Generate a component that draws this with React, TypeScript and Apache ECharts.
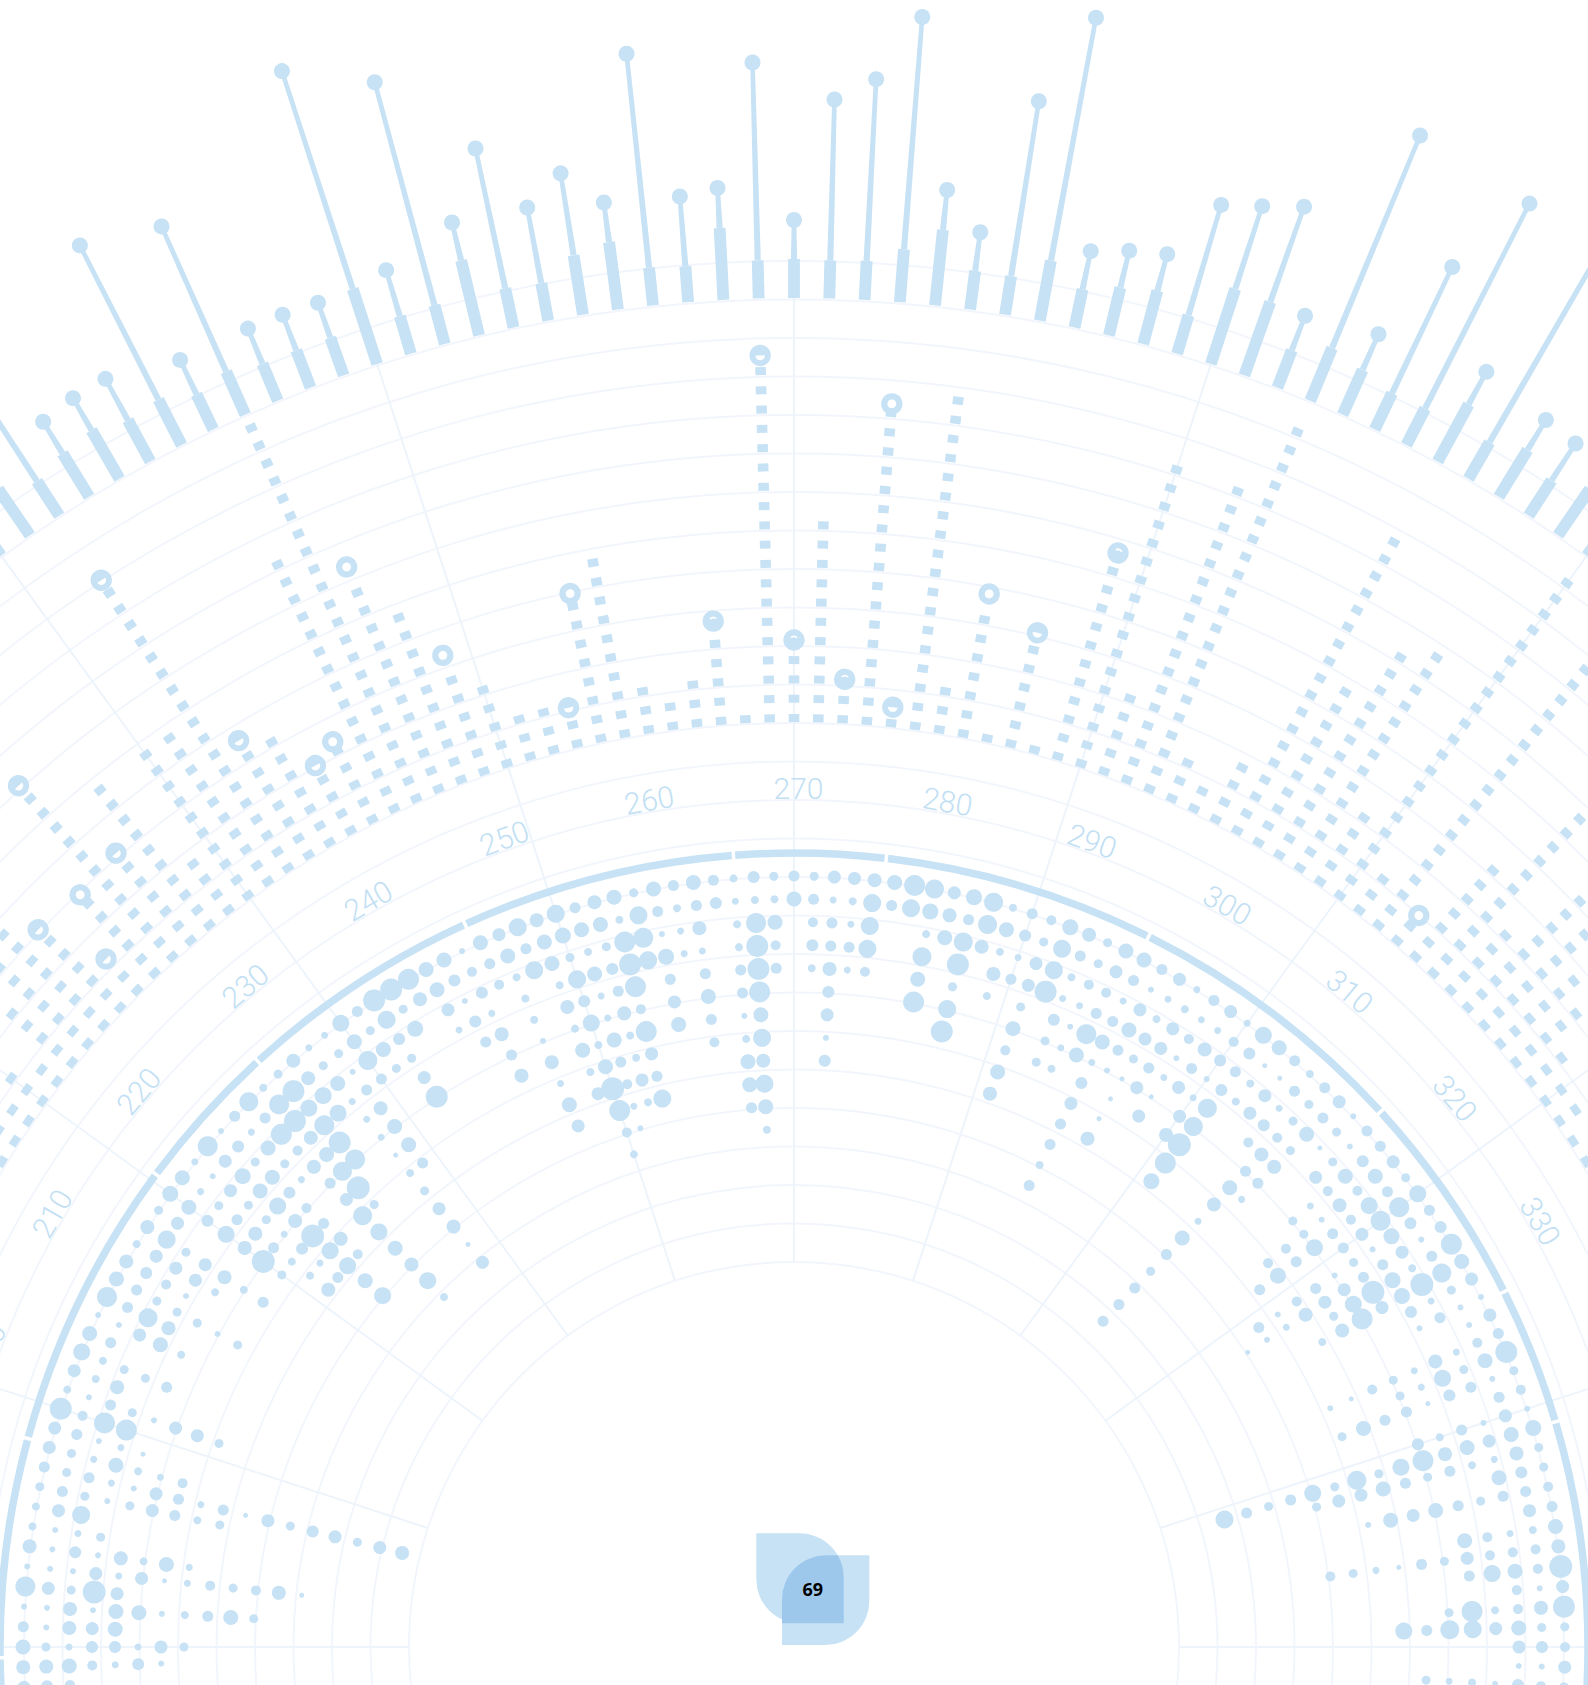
import React, { useEffect, useRef } from "react";
import * as echarts from "echarts";

const BLUE = "#c7e2f5";
const RING = "#f2f6fc";
const SPOKE = "#edf4fb";

// value axis ticks
const angleLabels = [200, 210, 220, 230, 240, 250, 260, 270, 280, 290, 300, 310, 320, 330];
const arcSegments = [
  [170, 179.1], [179.35, 195.1], [195.35, 216.4], [216.65, 227.4], [227.65, 245.4], [245.65, 265.5],
  [265.75, 276.55], [276.8, 296.4], [296.65, 317.5], [317.75, 333.3], [333.55, 343.4], [343.65, 370],
];

// inner bubble columns: each inner list holds one column's bubble sizes, outermost row first
const dotsWest = [ // columns -62 .. -41
  [13, 12, 10],
  [14, 14, 15, 10, 7, 12, 6],
  [15, 9, 7, 12, 12, 7, 13, 9],
  [11, 6, 14, 13, 15],
  [6, 6, 14, 6, 15, 15, 6, 8, 11, 15, 9],
  [20, 13, 9, 23, 13],
  [6, 6, 6, 13, 7, 13, 5, 7, 10, 9, 10, 14, 5],
  [14, 6, 12, 6, 14, 8, 15, 7],
  [8, 6, 7, 9],
  [8, 13, 18],
  [9, 11, 9, 6, 9, 13, 11, 8, 9],
  [11, 9, 11, 7, 6, 13, 11, 7, 11, 5, 13, 9, 12, 13, 9, 13, 14],
  [13, 9, 7, 15, 8, 7, 10],
  [13, 11, 6, 7, 5],
  [22, 10, 21, 21],
  [8, 6, 11, 9, 6, 13, 13, 9],
  [13, 8, 14],
  [17, 8, 9, 9, 11],
  [15, 11],
  [6, 6, 13, 15, 8],
  [20, 11, 19, 14],
  [15, 11, 9, 9, 9, 6, 9],
];
const dotsNorthWest = [ // columns -40 .. -21
  [14, 12, 10, 6],
  [8, 13, 13, 13, 8],
  [14, 18, 9, 13, 14, 8, 11],
  [9, 13],
  [16, 15, 12, 17, 14, 23, 9],
  [15, 7, 9, 11, 14, 11, 8, 8, 14],
  [7, 6, 13, 9, 9, 7, 12, 7, 11],
  [20, 13, 16, 15, 17, 14, 23, 17, 17, 15, 17],
  [6, 12, 9, 15, 12, 10, 11, 14, 10],
  [11, 7, 15, 9, 7],
  [19, 11, 21, 10, 14, 11, 13, 19, 17, 15, 14, 17, 8],
  [8, 20, 22, 14, 15, 19, 23, 9],
  [9, 22, 17, 20, 22, 20],
  [14, 14, 17, 17],
  [7, 9, 15, 7, 7, 7, 5, 8, 9, 13, 14, 5, 13],
  [7, 9, 6, 11, 14, 15, 15, 11],
  [17, 15, 19, 11],
  [11, 9, 15, 9],
  [22, 18, 12, 9, 13, 22],
  [22, 9, 16],
];
const dotsNorth = [ // columns -20 .. 20
  [21, 14],
  [15, 15, 13, 7],
  [15, 12, 6, 12, 11],
  [6, 10, 12, 7, 14, 11, 14],
  [15, 11, 10],
  [13, 15, 8, 8, 8, 6, 14, 7, 15, 13],
  [18, 11, 18],
  [14, 15, 15, 8, 14, 8, 15, 8, 13],
  [18, 16, 9, 18, 12, 17, 8, 15, 23, 21, 10, 8],
  [11, 15, 8, 15, 7, 7, 15, 11, 10, 7, 6],
  [14, 15, 9, 12, 11, 14, 8, 8, 13, 8],
  [15, 8, 21, 22, 21, 10, 21, 13, 11, 18],
  [9, 18, 20, 18],
  [15, 11, 6, 16, 11, 13, 15],
  [11, 8, 7, 7],
  [15, 11, 14, 7, 11, 15, 11, 10],
  [11, 12],
  [8, 7, 8, 8, 11, 11, 6, 8, 15, 15, 11],
  [12, 8, 20, 22, 22, 21, 15, 18, 14, 18, 15, 8],
  [9, 8, 15, 10, 11],
  [11, 15],
  [9, 11, 10, 12, 8],
  [13, 7, 11, 11, 14, 12, 13, 6, 12],
  [13, 8, 7, 11, 7],
  [14, 18, 18, 18, 10],
  [15, 11],
  [21, 18],
  [19, 16, 8, 19, 15, 21],
  [13, 14, 15],
  [16, 11, 19, 22, 9, 18, 22],
  [19, 19, 14],
  [8, 15, 8, 14, 8],
  [11, 12, 7, 11],
  [10, 9, 13, 13, 9, 15, 10, 15, 14],
  [16, 18, 18, 22],
  [14, 11, 8, 7, 12, 9, 9],
  [9, 9, 10, 7, 6, 7, 8],
  [15, 13, 10, 11, 20, 15],
  [15, 11, 7, 11, 15, 7, 12, 13, 11, 11, 8, 11],
  [11, 6, 13, 15, 11, 6],
  [13, 7, 8, 13, 9, 5, 5, 5, 14],
];
const dotsNorthEast = [ // columns 21 .. 40
  [7, 8, 13, 13, 11, 13],
  [11, 7, 10, 6, 7, 5, 13],
  [13, 7, 14, 11, 13],
  [7, 10, 12, 6, 7, 13, 14],
  [17, 12, 11, 12, 19, 19, 23, 21, 16],
  [15, 5, 8, 8],
  [11, 5, 13, 13],
  [8, 11, 7, 12, 10],
  [11, 9, 9, 10, 14, 11, 15, 14, 7, 15, 11, 9, 11, 11, 11],
  [13, 11, 15, 9, 14, 11, 7],
  [6, 9, 5],
  [11, 6, 9, 13],
  [11, 12, 15, 10, 7, 9],
  [13, 15, 10, 14, 6, 9, 10, 10],
  [9, 11, 17, 10, 11, 17, 11, 16, 11],
  [17, 20, 20, 13, 11],
  [11, 12, 16, 6, 9, 6, 11, 10, 6, 11],
  [12, 6, 13, 11, 11, 13, 13, 14, 7, 6, 5],
  [21, 11, 8, 16, 23, 17, 9],
  [15, 19, 23, 16, 13, 21, 14, 8],
];
const dotsEast = [ // columns 41 .. 62
  [13, 9, 7, 12],
  [6, 6, 11, 6],
  [13, 6],
  [11, 10, 7, 14, 7, 9, 10, 5, 6],
  [22, 15, 9, 17, 7, 9],
  [9, 6, 11, 12, 5, 11, 11, 15, 9],
  [10, 11],
  [6, 13, 6, 11, 8, 12],
  [16, 15, 13, 15, 14, 21, 17, 9, 19, 9, 17, 11, 9, 11, 18],
  [9, 14, 7, 8, 11, 9, 11, 15, 13, 13, 9],
  [9, 12, 15],
  [10, 11, 11, 9, 11, 15, 13, 15, 6],
  [11, 13],
  [15, 8, 7, 10, 15],
  [14, 10, 10, 10, 13, 9, 11, 5, 7, 9, 10],
  [23, 10, 15, 17, 11],
  [13, 6, 10],
  [22, 14, 10, 8, 21, 9],
  [9, 9, 15, 13, 18, 19, 11, 17],
  [10, 12, 13],
  [13, 6, 6],
  [10, 10, 12, 6, 8, 7, 9],
];

// middle band: number of square marks per column, columns -39 .. 39
const dashCounts = [
  1, 2, 2, 3, 2, 5, 7, 8, 6, 2, 6, 12, 6, 10, 4, 10, 10, 18, 7, 7,
  4, 5, 15, 22, 12, 10, 6, 5, 3, 3, 2, 8, 10, 3, 2, 3, 5, 1, 19,
  4,
  11, 2, 17, 1, 18, 3, 7, 1, 6, 1, 11, 17, 5, 17, 21, 3, 2, 4, 18, 10,
  13, 14, 5, 21, 3, 18, 2, 7, 12, 5, 9, 8, 6, 5, 3, 2, 2, 1, 1,
];
// open markers capping some of those columns
const headColumns = [-31, -30, -29, -28, -27, -22, -21, -19, -18, -15, -13, -9, -8, -3, -1, 0, 2, 3, 4, 7, 9, 11, 27];
const headRadii = [1042, 973, 1037, 1159, 1044, 1272, 1063, 1003, 1016, 1169, 1052, 966, 1077, 1029, 1292, 1007, 969, 1247, 945, 1071, 1043, 1141, 962];
const headKinds = ["half", "half", "ring", "half", "half", "half", "half", "half", "ring", "ring", "ring", "half", "ring", "cap", "half", "cap", "cap", "ring", "half", "ring", "half", "cap", "ring"];

// outer lollipops, columns -24 .. 24
const spikeShoulders = [
  1400, 1405, 1390, 1400, 1405, 1396, 1400, 1388, 1396, 1389, 1389, 1389, 1428, 1388, 1389, 1426, 1389, 1387, 1409, 1417, 1387, 1385, 1421, 1387,
  1388,
  1387, 1388, 1402, 1425, 1388, 1388, 1410, 1388, 1398, 1404, 1389, 1428, 1427, 1389, 1406, 1398, 1389, 1390, 1414, 1391, 1404, 1391, 1405, 1400,
];
const spikeTips = [
  1500, 1500, 1540, 1437, 1442, 1443, 1573, 1426, 1555, 1427, 1427, 1426, 1657, 1436, 1620, 1465, 1532, 1464, 1492, 1457, 1602, 1455, 1461, 1585,
  1427,
  1548, 1570, 1635, 1465, 1427, 1565, 1657, 1427, 1436, 1442, 1504, 1515, 1528, 1426, 1636, 1437, 1529, 1620, 1451, 1680, 1439, 1435, 1500, 1500,
];

const colAngle = (c: number) => 270 + 1.5 * c;
const DOT_OUTER = 771;
const DOT_STEP = 23;
const DASH_INNER = 929;
const DASH_STEP = 19.3;
const SPIKE_BASE = 1349;

function dotData() {
  const out: number[][] = [];
  const add = (cols: number[][], first: number) =>
    cols.forEach((sizes, k) =>
      sizes.forEach((s, row) => {
        if (s > 0) out.push([DOT_OUTER - DOT_STEP * row, colAngle(first + k), s]);
      })
    );
  add(dotsWest, -62);
  add(dotsNorthWest, -40);
  add(dotsNorth, -20);
  add(dotsNorthEast, 21);
  add(dotsEast, 41);
  return out;
}

function dashData() {
  const out: number[][] = [];
  dashCounts.forEach((n, k) => {
    for (let j = 0; j < n; j++) out.push([DASH_INNER + DASH_STEP * j, colAngle(k - 39)]);
  });
  return out;
}

const tilt = (angle: number) => (-(angle - 270) * Math.PI) / 180;

function option() {
  return {
    animation: false,
    backgroundColor: "#ffffff",
    polar: [
      { center: [794, 1647], radius: [385, 1386] },
      { center: [794, 1647], radius: [385, SPIKE_BASE] },
      { center: [794, 1647], radius: [0, 1700] },
    ],
    radiusAxis: [
      {
        polarIndex: 0, type: "value", min: 385, max: 1386, interval: 38.5,
        axisLine: { show: false }, axisTick: { show: false }, axisLabel: { show: false },
        splitLine: { show: true, lineStyle: { color: RING, width: 2 } },
      },
      { polarIndex: 1, type: "value", min: 385, max: SPIKE_BASE, show: false },
      { polarIndex: 2, type: "value", min: 0, max: 1700, show: false },
    ],
    angleAxis: [
      { polarIndex: 0, type: "value", min: 0, max: 360, startAngle: 0, show: false },
      {
        polarIndex: 1, type: "value", min: 0, max: 360, interval: 18, startAngle: 0,
        axisLine: { show: false }, axisTick: { show: false }, axisLabel: { show: false },
        splitLine: { show: true, lineStyle: { color: SPOKE, width: 2 } },
      },
      { polarIndex: 2, type: "value", min: 0, max: 360, startAngle: 0, show: false },
    ],
    series: [
      {
        type: "custom", coordinateSystem: "polar", polarIndex: 2, silent: true, clip: false,
        data: arcSegments.map(([a, b]) => [794, a, b]),
        renderItem: (_: any, api: any) => {
          const c = api.coord([0, 0]);
          return {
            type: "arc",
            shape: {
              cx: c[0], cy: c[1], r: api.value(0),
              startAngle: (api.value(1) * Math.PI) / 180,
              endAngle: (api.value(2) * Math.PI) / 180,
              clockwise: true,
            },
            style: { fill: "none", stroke: BLUE, lineWidth: 7.5 },
          };
        },
      },
      {
        type: "custom", coordinateSystem: "polar", polarIndex: 2, silent: true, clip: false,
        data: angleLabels.map((a) => [859, a]),
        renderItem: (_: any, api: any) => {
          const a = api.value(1);
          const p = api.coord([api.value(0), a]);
          const t = tilt(a);
          return {
            type: "text", x: p[0] + 4.5 * Math.cos(t), y: p[1] - 4.5 * Math.sin(t), rotation: t,
            style: {
              text: String(a), fill: "#c2dff4", align: "center", verticalAlign: "middle",
              fontSize: 30, fontWeight: 300, fontFamily: "Roboto, sans-serif",
            },
          };
        },
      },
      {
        type: "scatter", coordinateSystem: "polar", polarIndex: 2, silent: true, clip: false,
        data: dotData(),
        symbol: "circle",
        symbolSize: (v: number[]) => v[2],
        itemStyle: { color: BLUE, opacity: 1 },
      },
      {
        type: "custom", coordinateSystem: "polar", polarIndex: 2, silent: true, clip: false,
        data: dashData(),
        renderItem: (_: any, api: any) => {
          const a = api.value(1);
          const p = api.coord([api.value(0), a]);
          return {
            type: "rect", x: p[0], y: p[1], rotation: tilt(a),
            shape: { x: -5.3, y: -4, width: 10.6, height: 8 },
            style: { fill: BLUE },
          };
        },
      },
      {
        type: "custom", coordinateSystem: "polar", polarIndex: 2, silent: true, clip: false,
        data: headColumns.map((c, i) => [headRadii[i], colAngle(c), i]),
        renderItem: (_: any, api: any) => {
          const a = api.value(1);
          const p = api.coord([api.value(0), a]);
          const kind = headKinds[api.value(2)];
          const inner: any =
            kind === "ring"
              ? { type: "circle", shape: { cx: 0, cy: 0, r: 4.4 }, style: { fill: "#fff" } }
              : kind === "half"
              ? { type: "sector", shape: { cx: 0, cy: 0, r0: 0, r: 4.8, startAngle: 0, endAngle: Math.PI, clockwise: true }, style: { fill: "#fff" } }
              : { type: "sector", shape: { cx: 0, cy: 0, r0: 2.8, r: 4.6, startAngle: Math.PI * 1.2, endAngle: Math.PI * 1.8, clockwise: true }, style: { fill: "#fff" } };
          return {
            type: "group", x: p[0], y: p[1], rotation: tilt(a),
            children: [{ type: "circle", shape: { cx: 0, cy: 0, r: 10.7 }, style: { fill: BLUE } }, inner],
          };
        },
      },
      {
        type: "custom", coordinateSystem: "polar", polarIndex: 2, silent: true, clip: false,
        data: spikeTips.map((t, i) => [t, colAngle(i - 24), spikeShoulders[i]]),
        renderItem: (_: any, api: any) => {
          const a = api.value(1);
          const tip = api.coord([api.value(0), a]);
          const top = api.coord([api.value(2), a]);
          const base = api.coord([SPIKE_BASE, a]);
          const rad = (a * Math.PI) / 180;
          const nx = -Math.sin(rad);
          const ny = Math.cos(rad);
          return {
            type: "group",
            children: [
              {
                type: "polygon",
                shape: {
                  points: [
                    [top[0] + nx * 3.1, top[1] + ny * 3.1],
                    [tip[0] + nx * 2.3, tip[1] + ny * 2.3],
                    [tip[0] - nx * 2.3, tip[1] - ny * 2.3],
                    [top[0] - nx * 3.1, top[1] - ny * 3.1],
                  ],
                },
                style: { fill: BLUE },
              },
              { type: "line", shape: { x1: base[0], y1: base[1], x2: top[0], y2: top[1] }, style: { stroke: BLUE, lineWidth: 11.8 } },
              { type: "circle", shape: { cx: tip[0], cy: tip[1], r: 8 }, style: { fill: BLUE } },
            ],
          };
        },
      },
    ],
    graphic: [
      { type: "rect", z: 20, shape: { x: 756.3, y: 1533.3, width: 87.4, height: 90, r: [0, 44, 0, 44] }, style: { fill: BLUE } },
      { type: "rect", z: 20, shape: { x: 782, y: 1555.3, width: 87.3, height: 89.7, r: [44, 0, 44, 0] }, style: { fill: BLUE } },
      { type: "logoOverlap", z: 21, style: { fill: "#9dc8ec" } },
      {
        type: "text", z: 22, x: 812.7, y: 1589,
        style: { text: "69", fill: "#000", fontSize: 18, fontWeight: "bold", fontFamily: "'Noto Sans', sans-serif", align: "center", verticalAlign: "middle" },
      },
    ],
  };
}

echarts.graphic.registerShape(
  "logoOverlap",
  echarts.graphic.extendPath("M782 1623.3 L782 1599.3 A44 44 0 0 1 826 1555.3 L837.8 1555.3 A44 44 0 0 1 843.7 1577.3 L843.7 1623.3 Z", {})
);

export default function App() {
  const ref = useRef<HTMLDivElement>(null);
  useEffect(() => {
    const chart = echarts.init(ref.current!, undefined, { renderer: "svg" });
    chart.setOption(option() as any);
    return () => chart.dispose();
  }, []);
  return <div ref={ref} style={{ position: "absolute", left: 0, top: 0, width: 1588, height: 1685, overflow: "hidden" }} />;
}
